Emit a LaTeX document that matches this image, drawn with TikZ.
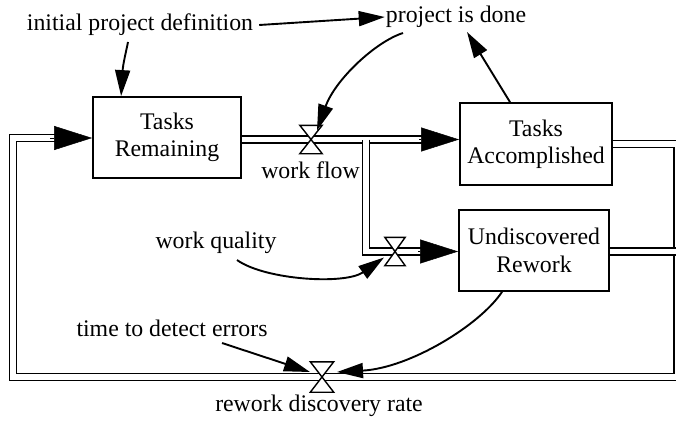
\documentclass[tikz,border=0pt]{standalone}
\usepackage{fontspec}
\setmainfont{Liberation Serif}
\newfontfamily\diagfont{Liberation Serif}
\usetikzlibrary{arrows.meta,calc}

\begin{document}
\begin{tikzpicture}[x=1pt,y=-1pt,
  every node/.style={font=\diagfont\fontsize{23.8}{27.4}\selectfont},
  stock/.style={draw, line width=1.8pt, align=center, inner sep=0pt},
  txt/.style={inner sep=1pt},
  pipe/.style={draw, line width=1.6pt, double=white, double distance=5.2pt},
  pipehead/.style={-{Triangle[length=38pt,width=24pt]}, line width=0.5pt},
  info/.style={line width=1.9pt, -{Triangle[length=26pt,width=15pt]}},
  valve/.style={minimum width=22pt, minimum height=28pt, inner sep=0pt},
  valveline/.style={fill=white, line width=1.4pt, line join=miter},
]
\clip (0,0) rectangle (676,420);

% stocks
\node[stock, minimum width=148pt, minimum height=81pt] (tr) at (167,137.5) {Tasks\\Remaining};
\node[stock, minimum width=152pt, minimum height=82pt] (ta) at (536,144) {Tasks\\Accomplished};
\node[stock, minimum width=150pt, minimum height=81pt] (ur) at (534,250.5) {Undiscovered\\Rework};

% auxiliaries and labels
\node[txt] (ipd) at (140,25) {initial project definition};
\node[txt] (pid) at (456,17) {project is done};
\node[txt] (wfl) at (310.5,170) {work flow};
\node[txt] (wq)  at (216,243) {work quality};
\node[txt] (tde) at (172,328) {time to detect errors};
\node[txt] (rdl) at (319,406) {rework discovery rate};

% valves
\node[valve] (wf) at (311,139.5) {};
\node[valve, minimum width=20pt] (wv) at (395,251.5) {};
\node[valve, minimum width=23pt, minimum height=30pt] (rd) at (322,377) {};

% pipe corners
\coordinate (br) at (366,139.5);
\coordinate (ne) at (677.5,144);
\coordinate (se) at (677.5,377);
\coordinate (sw) at (13,377);
\coordinate (nw) at (13,138);

% flows
\draw[pipe] (tr.east |- wf) -- ($(ta.west |- wf)+(-34,0)$);
\draw[pipe] (br) |- ($(ur.west |- wv)+(-34,0)$);
\draw[pipe] (ta.east) -- (ne) -- (se) -- (sw) -- (nw) -- ($(tr.west |- nw)+(-36,0)$);
\draw[pipe] (ur.east |- wv) -- (ne |- wv);

\draw[pipehead] ($(ta.west |- wf)+(-40,0)$) -- (ta.west |- wf);
\draw[pipehead] ($(ur.west |- wv)+(-40,0)$) -- (ur.west |- wv);
\draw[pipehead] ($(tr.west |- nw)+(-42,0)$) -- (tr.west |- nw);

\foreach \v in {wf,wv,rd}
  \filldraw[valveline] (\v.north west) -- (\v.north east) -- (\v.south west) -- (\v.south east) -- cycle;

% information links
\draw[info] ($(ipd)+(-12,17)$) .. controls (126,52) and (123,64) .. ($(tr.north west)+(29,0)$);
\draw[info] ($(ipd.east)+(5,0)$) -- (pid.west);
\draw[info] ($(ta.north)+(-26,0)$) -- ($(pid)+(11,15)$);
\draw[info] ($(pid)+(-53,16)$) .. controls (375,42) and (335,80) .. ($(wf)+(6,-9)$);
\draw[info] ($(wq)+(21,17)$) .. controls (265,280) and (345,285) .. ($(wv)+(-11,6)$);
\draw[info] ($(tde)+(50,15)$) -- ($(rd)+(-12,-5)$);
\draw[info] ($(ur.south)+(-32,0)$) .. controls (480,325) and (410,368) .. ($(rd)+(15,-5)$);
\end{tikzpicture}
\end{document}
